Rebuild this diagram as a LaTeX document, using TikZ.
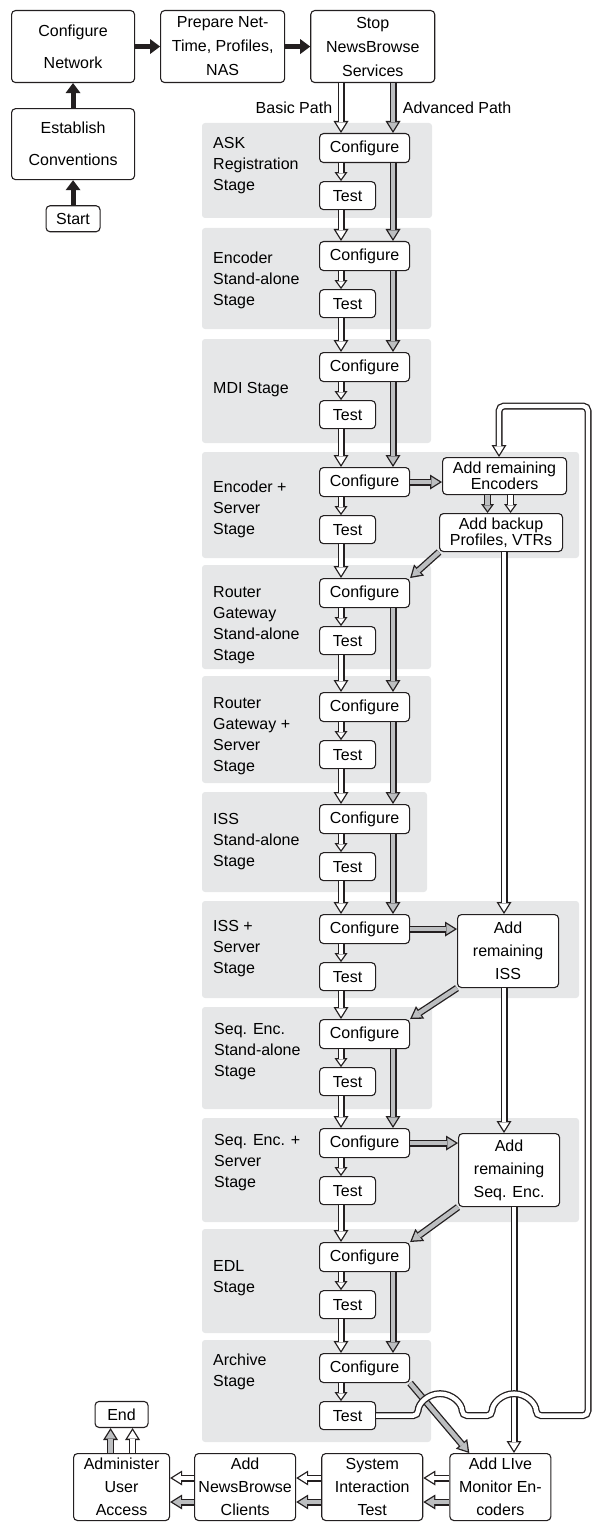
\documentclass[tikz,border=0pt]{standalone}
\usepackage{fontspec}
\setsansfont{Liberation Sans}
\usetikzlibrary{positioning,arrows.meta,calc}
\definecolor{catInk}{HTML}{231F20}
\definecolor{catPanelGray}{HTML}{E6E7E8}
\definecolor{catMidGray}{HTML}{BCBEC0}
\colorlet{colStage}{catPanelGray}
\colorlet{colAdvanced}{catMidGray}

\begin{document}
\begin{tikzpicture}[
  x=1pt, y=-1pt,
  font=\sffamily\fontsize{16}{23}\selectfont,
  node distance=18pt,
  box/.style={
    rectangle, draw=catInk, fill=white, line width=1.1pt,
    rounded corners=4pt, align=center, inner sep=2pt, anchor=north west
  },
  cfgbox/.style={box, minimum width=90pt, minimum height=29pt},
  testbox/.style={box, minimum width=56pt, minimum height=28pt},
  stagelbl/.style={anchor=west, align=left, inner sep=0pt, font=\sffamily\fontsize{16}{21}\selectfont},
  panel/.style={fill=colStage, rounded corners=3pt},
  solidarrow/.style={line width=5pt, draw=catInk, -{Triangle[length=10pt,width=15pt,line width=0pt]}},
  pipe/.style={
    line width=7pt, draw=catInk, -{Triangle[length=12pt,width=15pt,line width=0pt]},
    postaction={draw=#1, line width=4.4pt, shorten >=2.45pt,
      -{Triangle[length=8.25pt,width=10.3pt,line width=0pt]}}
  },
  shortpipe/.style={
    line width=7pt, draw=catInk, -{Triangle[length=9pt,width=13pt,line width=0pt]},
    postaction={draw=#1, line width=4.4pt, shorten >=2.2pt,
      -{Triangle[length=5.5pt,width=7.9pt,line width=0pt]}}
  },
  basic/.style={pipe=white},
  adv/.style={pipe=colAdvanced},
  basicshort/.style={shortpipe=white},
  advshort/.style={shortpipe=colAdvanced}
]
  \useasboundingbox (0,0) rectangle (592,1522);

  % columns and rows the connectors run on
  \coordinate (bcol) at (341,0);
  \coordinate (acol) at (393,0);
  \coordinate (dropx) at (504,0);
  \coordinate (livex) at (514,0);
  \coordinate (loopx) at (499,0);
  \coordinate (ret) at (588,406);
  \coordinate (brow) at (0,1478);
  \coordinate (arow) at (0,1502);

  % Preparation
  \node[box, minimum width=123pt, minimum height=72pt, font=\sffamily\fontsize{16}{32}\selectfont] (cfgnet) at (11,10) {Configure\\Network};
  \node[box, minimum width=124pt, minimum height=72pt, font=\sffamily\fontsize{16}{24}\selectfont, right=25pt of cfgnet] (prep) {Prepare Net-\\Time, Profiles,\\NAS};
  \node[box, minimum width=124pt, minimum height=72pt, font=\sffamily\fontsize{16}{24}\selectfont, right=25pt of prep] (stop) {Stop\\NewsBrowse\\Services};
  \node[box, minimum width=123pt, minimum height=71pt, font=\sffamily\fontsize{16}{32}\selectfont, below=25pt of cfgnet] (est) {Establish\\Conventions};
  \node[box, minimum width=54pt, minimum height=26pt, below=25pt of est] (start) {Start};

  % ASK Registration Stage
  \fill[panel] (202,123) rectangle (432,218);
  \node[stagelbl] (lbl1) at (213,166) {ASK\\Registration\\Stage};
  \node[cfgbox] (cfg1) at (319,133) {Configure};
  \node[testbox, below=of cfg1.south west, anchor=north west] (tst1) {Test};

  % Encoder Stand-alone Stage
  \fill[panel] (202,228) rectangle (431,329);
  \node[stagelbl] (lbl2) at (213,280) {Encoder\\Stand-alone\\Stage};
  \node[cfgbox] (cfg2) at (319,241) {Configure};
  \node[testbox, below=of cfg2.south west, anchor=north west] (tst2) {Test};

  % MDI Stage
  \fill[panel] (202,339) rectangle (431,443);
  \node[stagelbl] (lbl3) at (213,390) {MDI Stage};
  \node[cfgbox] (cfg3) at (319,352) {Configure};
  \node[testbox, below=of cfg3.south west, anchor=north west] (tst3) {Test};

  % Encoder + Server Stage
  \fill[panel] (202,452) rectangle (579,558);
  \node[stagelbl] (lbl4) at (213,509) {Encoder +\\Server\\Stage};
  \node[cfgbox] (cfg4) at (319,467) {Configure};
  \node[testbox, below=of cfg4.south west, anchor=north west] (tst4) {Test};
  \node[box, minimum width=124pt, minimum height=37pt, font=\sffamily\fontsize{16}{16}\selectfont] (enc) at (442,457) {Add remaining\\Encoders};
  \node[box, minimum width=123pt, minimum height=38pt, font=\sffamily\fontsize{16}{16}\selectfont] (bkp) at (439,513) {Add backup\\Profiles, VTRs};

  % Router Gateway Stand-alone Stage
  \fill[panel] (202,565) rectangle (431,669);
  \node[stagelbl] (lbl5) at (213,625) {Router\\Gateway\\Stand-alone\\Stage};
  \node[cfgbox] (cfg5) at (319,578) {Configure};
  \node[testbox, below=of cfg5.south west, anchor=north west] (tst5) {Test};

  % Router Gateway + Server Stage
  \fill[panel] (202,676) rectangle (431,783);
  \node[stagelbl] (lbl6) at (213,736) {Router\\Gateway +\\Server\\Stage};
  \node[cfgbox] (cfg6) at (319,692) {Configure};
  \node[testbox, below=of cfg6.south west, anchor=north west] (tst6) {Test};

  % ISS Stand-alone Stage
  \fill[panel] (202,792) rectangle (427,892);
  \node[stagelbl] (lbl7) at (213,842) {ISS\\Stand-alone\\Stage};
  \node[cfgbox] (cfg7) at (319,804) {Configure};
  \node[testbox, below=of cfg7.south west, anchor=north west] (tst7) {Test};

  % ISS + Server Stage
  \fill[panel] (202,901) rectangle (579,998);
  \node[stagelbl] (lbl8) at (213,949) {ISS +\\Server\\Stage};
  \node[cfgbox] (cfg8) at (319,914) {Configure};
  \node[testbox, below=of cfg8.south west, anchor=north west] (tst8) {Test};
  \node[box, minimum width=101pt, minimum height=73pt] (iss) at (457,914) {Add\\remaining\\ISS};

  % Seq. Enc. Stand-alone Stage
  \fill[panel] (202,1007) rectangle (432,1109);
  \node[stagelbl] (lbl9) at (214,1052) {Seq. Enc.\\Stand-alone\\Stage};
  \node[cfgbox] (cfg9) at (319,1019) {Configure};
  \node[testbox, below=of cfg9.south west, anchor=north west] (tst9) {Test};

  % Seq. Enc. + Server Stage
  \fill[panel] (202,1118) rectangle (579,1222);
  \node[stagelbl] (lbl10) at (214,1163) {Seq. Enc. +\\Server\\Stage};
  \node[cfgbox] (cfg10) at (319,1128) {Configure};
  \node[testbox, below=of cfg10.south west, anchor=north west] (tst10) {Test};
  \node[box, minimum width=101pt, minimum height=73pt] (seqb) at (458,1133) {Add\\remaining\\Seq. Enc.};

  % EDL Stage
  \fill[panel] (202,1229) rectangle (431,1333);
  \node[stagelbl] (lbl11) at (213,1278) {EDL\\Stage};
  \node[cfgbox] (cfg11) at (319,1242) {Configure};
  \node[testbox, below=of cfg11.south west, anchor=north west] (tst11) {Test};

  % Archive Stage
  \fill[panel] (202,1340) rectangle (431,1442);
  \node[stagelbl] (lbl12) at (213,1372) {Archive\\Stage};
  \node[cfgbox] (cfg12) at (319,1353) {Configure};
  \node[testbox, below=of cfg12.south west, anchor=north west] (tst12) {Test};

  % Wrap-up
  \node[box, minimum width=96pt, minimum height=67pt] (adm) at (73,1453) {Administer\\User\\Access};
  \node[box, minimum width=101pt, minimum height=67pt, right=24pt of adm] (nbc) {Add\\NewsBrowse\\Clients};
  \node[box, minimum width=101pt, minimum height=67pt, right=25pt of nbc] (sys) {System\\Interaction\\Test};
  \node[box, minimum width=101pt, minimum height=67pt, right=26pt of sys] (live) {Add LIve\\Monitor En-\\coders};
  \node[box, minimum width=53pt, minimum height=26pt, above=25pt of adm] (end) {End};

  % Preparation arrows
  \draw[solidarrow] (start.north) -- (est.south);
  \draw[solidarrow] (est.north) -- (cfgnet.south);
  \draw[solidarrow] (cfgnet.east) -- (prep.west);
  \draw[solidarrow] (prep.east) -- (stop.west);

  % Basic path
  \draw[basic] (stop.south -| bcol) -- node[left=2pt] {Basic Path} (cfg1.north -| bcol);
  \draw[basicshort] (cfg1.south -| bcol) -- (tst1.north -| bcol);
  \draw[basic] (tst1.south -| bcol) -- (cfg2.north -| bcol);
  \draw[basicshort] (cfg2.south -| bcol) -- (tst2.north -| bcol);
  \draw[basic] (tst2.south -| bcol) -- (cfg3.north -| bcol);
  \draw[basicshort] (cfg3.south -| bcol) -- (tst3.north -| bcol);
  \draw[basic] (tst3.south -| bcol) -- (cfg4.north -| bcol);
  \draw[basicshort] (cfg4.south -| bcol) -- (tst4.north -| bcol);
  \draw[basic] (tst4.south -| bcol) -- (cfg5.north -| bcol);
  \draw[basicshort] (cfg5.south -| bcol) -- (tst5.north -| bcol);
  \draw[basic] (tst5.south -| bcol) -- (cfg6.north -| bcol);
  \draw[basicshort] (cfg6.south -| bcol) -- (tst6.north -| bcol);
  \draw[basic] (tst6.south -| bcol) -- (cfg7.north -| bcol);
  \draw[basicshort] (cfg7.south -| bcol) -- (tst7.north -| bcol);
  \draw[basic] (tst7.south -| bcol) -- (cfg8.north -| bcol);
  \draw[basicshort] (cfg8.south -| bcol) -- (tst8.north -| bcol);
  \draw[basic] (tst8.south -| bcol) -- (cfg9.north -| bcol);
  \draw[basicshort] (cfg9.south -| bcol) -- (tst9.north -| bcol);
  \draw[basic] (tst9.south -| bcol) -- (cfg10.north -| bcol);
  \draw[basicshort] (cfg10.south -| bcol) -- (tst10.north -| bcol);
  \draw[basic] (tst10.south -| bcol) -- (cfg11.north -| bcol);
  \draw[basicshort] (cfg11.south -| bcol) -- (tst11.north -| bcol);
  \draw[basic] (tst11.south -| bcol) -- (cfg12.north -| bcol);
  \draw[basicshort] (cfg12.south -| bcol) -- (tst12.north -| bcol);

  % Advanced path
  \draw[adv] (stop.south -| acol) -- node[right=3pt] {Advanced Path} (cfg1.north -| acol);
  \draw[adv] (cfg1.south -| acol) -- (cfg2.north -| acol);
  \draw[adv] (cfg2.south -| acol) -- (cfg3.north -| acol);
  \draw[adv] (cfg3.south -| acol) -- (cfg4.north -| acol);
  \draw[adv] (cfg4.east) -- (cfg4.east -| enc.west);
  \draw[advshort] ([xshift=-17pt]enc.south) -- ([xshift=-17pt]enc.south |- bkp.north);
  \draw[adv] (bkp.south west) -- (cfg5.north east);
  \draw[adv] (cfg5.south -| acol) -- (cfg6.north -| acol);
  \draw[adv] (cfg6.south -| acol) -- (cfg7.north -| acol);
  \draw[adv] (cfg7.south -| acol) -- (cfg8.north -| acol);
  \draw[adv] (cfg8.east) -- (cfg8.east -| iss.west);
  \draw[adv] (iss.south west) -- (cfg9.north east);
  \draw[adv] (cfg9.south -| acol) -- (cfg10.north -| acol);
  \draw[adv] (cfg10.east) -- (cfg10.east -| seqb.west);
  \draw[adv] (seqb.south west) -- (cfg11.north east);
  \draw[adv] (cfg11.south -| acol) -- (cfg12.north -| acol);
  \draw[adv] (cfg12.south east) -- ([xshift=20pt]live.north west);

  % Remaining units on the basic path
  \draw[basicshort] ([xshift=6pt]enc.south) -- ([xshift=6pt]enc.south |- bkp.north);
  \draw[basic] (bkp.south -| dropx) -- (iss.north -| dropx);
  \draw[basic] (iss.south -| dropx) -- (seqb.north -| dropx);
  \draw[basic] (seqb.south -| livex) -- (live.north -| livex);
  \draw[basic, rounded corners=5pt] (tst12.east) -- ++(42,0)
    arc[start angle=180, end angle=0, radius=22pt] -- ++(30,0)
    arc[start angle=180, end angle=0, radius=22pt] -- (tst12.east -| ret)
    -- (ret) -- (ret -| loopx) -- (enc.north -| loopx);

  % Wrap-up arrows
  \draw[basic] (live.west |- brow) -- (sys.east |- brow);
  \draw[adv] (live.west |- arow) -- (sys.east |- arow);
  \draw[basic] (sys.west |- brow) -- (nbc.east |- brow);
  \draw[adv] (sys.west |- arow) -- (nbc.east |- arow);
  \draw[basic] (nbc.west |- brow) -- (adm.east |- brow);
  \draw[adv] (nbc.west |- arow) -- (adm.east |- arow);
  \draw[adv] ([xshift=-11pt]adm.north) -- ([xshift=-11pt]adm.north |- end.south);
  \draw[basic] ([xshift=11pt]adm.north) -- ([xshift=11pt]adm.north |- end.south);

\end{tikzpicture}
\end{document}
